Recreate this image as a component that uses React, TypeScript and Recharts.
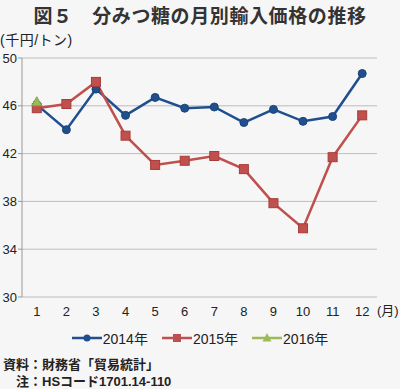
import { CartesianGrid, Line, LineChart, XAxis, YAxis } from "recharts";

const months = [1, 2, 3, 4, 5, 6, 7, 8, 9, 10, 11, 12];
const price2014 = [46.1, 44.0, 47.4, 45.2, 46.7, 45.8, 45.9, 44.6, 45.7, 44.7, 45.1, 48.7];
const price2015 = [45.8, 46.15, 48.0, 43.5, 41.05, 41.4, 41.8, 40.7, 37.85, 35.75, 41.7, 45.2];
const price2016 = [46.3];
const yTicks = [30, 34, 38, 42, 46, 50];
const boundaryTicks = [0.5, 1.5, 2.5, 3.5, 4.5, 5.5, 6.5, 7.5, 8.5, 9.5, 10.5, 11.5, 12.5];

const BLUE = "#1f4f8e";
const RED = "#c0504d";
const GREEN = "#9bbb59";
const FONT = '"Liberation Sans", "Noto Sans CJK JP", sans-serif';

const data = months.map((m, i) => ({
  m,
  y2014: price2014[i],
  y2015: price2015[i],
  y2016: price2016[i] ?? null,
}));

const SquareDot = (props: any) => {
  const { cx, cy } = props;
  if (cx == null || cy == null) return null;
  return <rect x={cx - 4.5} y={cy - 4.5} width={9} height={9} fill={RED} stroke="#a83c39" strokeWidth={1} />;
};

const TriDot = (props: any) => {
  const { cx, cy } = props;
  if (cx == null || cy == null) return null;
  return (
    <polygon
      points={`${cx},${cy - 5.5} ${cx + 5},${cy + 3.5} ${cx - 5},${cy + 3.5}`}
      fill={GREEN}
      stroke="#86a347"
      strokeWidth={1}
    />
  );
};

const legendItems = [
  { label: "2014年", color: BLUE, kind: "circle" },
  { label: "2015年", color: RED, kind: "square" },
  { label: "2016年", color: GREEN, kind: "tri" },
];

const LegendIcon = ({ color, kind }: { color: string; kind: string }) => (
  <svg width={30} height={10} style={{ display: "block" }}>
    <line x1={0} y1={5} x2={30} y2={5} stroke={color} strokeWidth={2.5} />
    {kind === "circle" && <circle cx={15} cy={5} r={3.5} fill={color} />}
    {kind === "square" && <rect x={11} y={1} width={8} height={8} fill={color} />}
    {kind === "tri" && <polygon points="15,0 19.5,8.5 10.5,8.5" fill={color} />}
  </svg>
);

export default function App() {
  return (
    <div
      style={{
        position: "absolute",
        left: 0,
        top: 0,
        width: 400,
        height: 389,
        background: "#f6f6f6",
        fontFamily: FONT,
        color: "#222",
        overflow: "hidden",
      }}
    >
      <div
        style={{
          position: "absolute",
          top: 1,
          left: 0,
          width: 400,
          textAlign: "center",
          fontSize: 19,
          fontWeight: "bold",
          color: "#333",
          letterSpacing: 0.6,
        }}
      >
        図５　分みつ糖の月別輸入価格の推移
      </div>
      <div style={{ position: "absolute", top: 29, left: 0, fontSize: 14, color: "#222", letterSpacing: 0.5 }}>
        (千円/トン)
      </div>
      <LineChart
        width={400}
        height={389}
        data={data}
        margin={{ top: 58, right: 23, left: 0, bottom: 62 }}
        style={{ position: "absolute", left: 0, top: 0 }}
      >
        <CartesianGrid vertical={false} stroke="#bdbdbd" strokeWidth={1} />
        <XAxis
          dataKey="m"
          type="number"
          domain={[0.5, 12.5]}
          ticks={months}
          interval={0}
          axisLine={false}
          tickLine={false}
          height={30}
          tick={{ fill: "#222", fontSize: 13, fontFamily: FONT }}
          tickMargin={4}
        />
        <XAxis
          xAxisId="b"
          dataKey="m"
          type="number"
          domain={[0.5, 12.5]}
          ticks={boundaryTicks}
          interval={0}
          axisLine={{ stroke: "#999" }}
          tickLine={{ stroke: "#999" }}
          tickSize={5}
          tick={false}
          height={0}
        />
        <YAxis
          domain={[30, 50]}
          ticks={yTicks}
          interval={0}
          width={22}
          axisLine={{ stroke: "#999" }}
          tickLine={{ stroke: "#999" }}
          tickSize={4}
          tickMargin={1}
          tick={{ fill: "#222", fontSize: 13, fontFamily: FONT }}
        />
        <Line
          dataKey="y2014"
          stroke={BLUE}
          strokeWidth={2.5}
          dot={{ r: 4, fill: BLUE, stroke: "#1a4478", strokeWidth: 1 }}
          isAnimationActive={false}
        />
        <Line
          dataKey="y2015"
          stroke={RED}
          strokeWidth={2.5}
          dot={<SquareDot />}
          isAnimationActive={false}
        />
        <Line
          dataKey="y2016"
          stroke={GREEN}
          strokeWidth={2.5}
          dot={<TriDot />}
          isAnimationActive={false}
        />
      </LineChart>
      <div style={{ position: "absolute", top: 300, left: 377, fontSize: 13 }}>(月)</div>
      <div
        style={{
          position: "absolute",
          top: 328,
          left: 0,
          width: 400,
          display: "flex",
          justifyContent: "center",
          gap: 14,
          fontSize: 14,
        }}
      >
        {legendItems.map((it) => (
          <div key={it.label} style={{ display: "flex", alignItems: "center", gap: 1 }}>
            <LegendIcon color={it.color} kind={it.kind} />
            <span>{it.label}</span>
          </div>
        ))}
      </div>
      <div style={{ position: "absolute", top: 356, left: 3, fontSize: 13, fontWeight: "bold", lineHeight: "17px" }}>
        <div>資料：財務省「貿易統計」</div>
        <div>　注：HSコード1701.14-110</div>
      </div>
    </div>
  );
}
